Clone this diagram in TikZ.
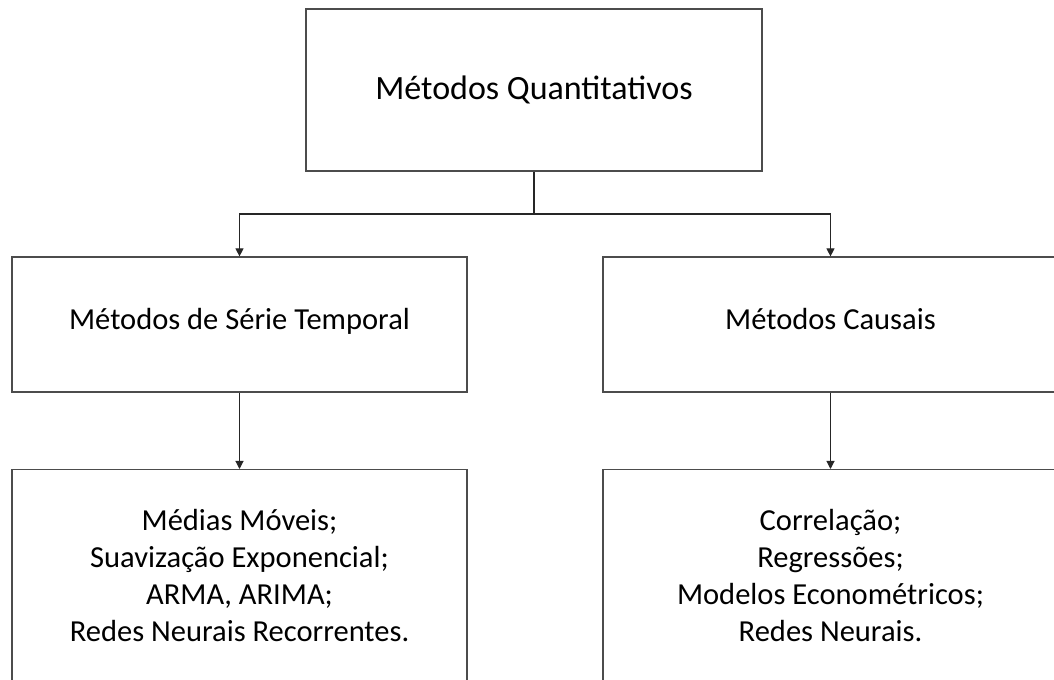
\documentclass[tikz,border=0pt]{standalone}
\usepackage{fontspec}
\setmainfont{Carlito}
\usepackage{xcolor}
\usepackage{tikz}
\usetikzlibrary{arrows.meta,positioning}

\begin{document}
\begin{tikzpicture}[
  x=0.75pt, y=-0.75pt,
  method/.style={rectangle, draw=black!70, line width=0.9pt, text centered, fill=white},
  topbox/.style={method, minimum width=342pt, minimum height=121.5pt, font=\fontsize{25.5}{30}\selectfont},
  midbox/.style={method, minimum width=341.25pt, minimum height=101.25pt, text height=0.9em, text depth=0.2em, font=\fontsize{22.9}{27}\selectfont},
  listbox/.style={method, minimum width=341.25pt, minimum height=166pt},
  listtext/.style={align=center, font=\fontsize{22.9}{27.75}\selectfont},
  arrow/.style={draw=black!85, line width=0.8pt, -{Triangle[length=6pt,width=6pt]}},
  link/.style={draw=black!85, line width=0.8pt}
]
\useasboundingbox (0,0) rectangle (1054,680);
\clip (0,0) rectangle (1054,680);

% Top level
\node (quant) [topbox] at (534,90) {Métodos Quantitativos};

% Second level
\node (serie) [midbox] at (239.5,324.5) {Métodos de Série Temporal};
\node (causal) [midbox] at (830.5,324.5) {Métodos Causais};

% Examples
\node (serielist) [listbox, anchor=north] at (239.5,469) {};
\node (causallist) [listbox, anchor=north] at (830.5,469) {};
\node (serietext) [listtext] at (239.5,576) {Médias Móveis;\\Suavização Exponencial;\\ARMA, ARIMA;\\Redes Neurais Recorrentes.};
\node (causaltext) [listtext] at (830.5,576) {Correlação;\\Regressões;\\Modelos Econométricos;\\Redes Neurais.};

% Connections
\coordinate (split) at (534,214);
\draw [link] (quant) -- (split);
\draw [arrow] (split) -| (serie);
\draw [arrow] (split) -| (causal);
\draw [arrow] (serie) -- (serielist);
\draw [arrow] (causal) -- (causallist);

\end{tikzpicture}
\end{document}
